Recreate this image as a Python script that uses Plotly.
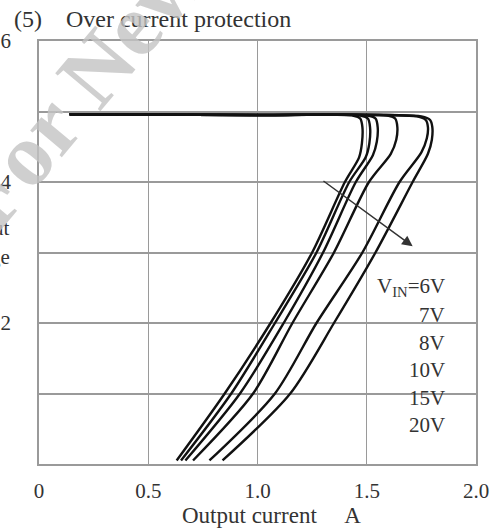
import plotly.graph_objects as go

# ---- data (output current A, output voltage V) ----
vin_labels = ["V<sub>IN</sub>=6V", "7V", "8V", "10V", "15V", "20V"]

I_6V = [0.14, 1.00, 1.44, 1.47, 1.48, 1.478, 1.465, 1.40, 1.25, 1.06, 0.85, 0.63]
V_6V = [4.96, 4.95, 4.94, 4.90, 4.78, 4.55, 4.35, 4.00, 3.00, 2.00, 1.00, 0.05]

I_7V = [0.14, 1.00, 1.475, 1.505, 1.515, 1.512, 1.495, 1.42, 1.27, 1.08, 0.88, 0.65]
V_7V = [4.96, 4.95, 4.94, 4.90, 4.78, 4.55, 4.35, 4.00, 3.00, 2.00, 1.00, 0.05]

I_8V = [0.14, 1.00, 1.51, 1.54, 1.55, 1.546, 1.528, 1.45, 1.30, 1.12, 0.92, 0.67]
V_8V = [4.96, 4.95, 4.94, 4.90, 4.78, 4.57, 4.38, 4.00, 3.00, 2.00, 1.00, 0.05]

I_10V = [0.14, 1.00, 1.60, 1.63, 1.64, 1.635, 1.61, 1.51, 1.35, 1.16, 0.98, 0.705]
V_10V = [4.96, 4.95, 4.94, 4.90, 4.78, 4.60, 4.40, 4.00, 3.00, 2.00, 1.00, 0.05]

I_15V = [0.14, 1.00, 1.73, 1.77, 1.78, 1.775, 1.75, 1.65, 1.48, 1.27, 1.08, 0.78]
V_15V = [4.96, 4.95, 4.93, 4.88, 4.78, 4.62, 4.42, 4.00, 3.00, 2.00, 1.00, 0.05]

I_20V = [0.14, 1.00, 1.75, 1.79, 1.80, 1.798, 1.78, 1.71, 1.54, 1.35, 1.15, 0.84]
V_20V = [4.96, 4.95, 4.93, 4.88, 4.78, 4.60, 4.40, 4.00, 3.00, 2.00, 1.00, 0.05]

x_tickvals = [0, 0.5, 1.0, 1.5, 2.0]
x_ticktext = ["0", "0.5", "1.0", "1.5", "2.0"]
y_tickvals = [0, 1, 2, 3, 4, 5, 6]
y_ticktext = ["", "", "2", "", "4", "", "6"]

curves = [(I_6V, V_6V), (I_7V, V_7V), (I_8V, V_8V),
          (I_10V, V_10V), (I_15V, V_15V), (I_20V, V_20V)]

SERIF = "Liberation Serif, Times New Roman, serif"
TXT = "#333333"
GRID = "#9a9a9a"

# plot area in pixels
L, R, T, B = 39, 476, 41, 464
W, H = 494, 528


def px(xp):
    return (xp - L) / (R - L)


def py(yp):
    return (B - yp) / (B - T)


fig = go.Figure()
for (ii, vv), name in zip(curves, vin_labels):
    fig.add_trace(go.Scatter(
        x=ii, y=vv, mode="lines", name=name,
        line=dict(color="#111111", width=2.4, shape="spline", smoothing=0.8),
        showlegend=False,
    ))

# VIN labels (right aligned column)
label_y = [2.51, 2.11, 1.72, 1.33, 0.94, 0.55]
for txt, yy in zip(vin_labels, label_y):
    fig.add_annotation(x=1.867, y=yy, xref="x", yref="y", text=txt,
                       showarrow=False, xanchor="right", yanchor="middle",
                       font=dict(family=SERIF, size=21, color=TXT))

# arrow showing increasing VIN
fig.add_annotation(x=1.71, y=3.09, ax=1.295, ay=4.03, xref="x", yref="y",
                   axref="x", ayref="y", text="", showarrow=True,
                   arrowhead=2, arrowsize=1.4, arrowwidth=1.5,
                   arrowcolor="#333333")

# title
fig.add_annotation(x=px(12), y=py(19), xref="paper", yref="paper",
                   text="(5)\u2003Over current protection", showarrow=False,
                   xanchor="left", yanchor="middle",
                   font=dict(family=SERIF, size=24, color=TXT))

# x axis title
fig.add_annotation(x=px(271), y=py(515), xref="paper", yref="paper",
                   text="Output current\u2003 A", showarrow=False,
                   xanchor="center", yanchor="middle",
                   font=dict(family=SERIF, size=23, color=TXT))

# y axis title (cut off at the left edge)
fig.add_annotation(x=px(12), y=py(228), xref="paper", yref="paper",
                   text="Output", showarrow=False, xanchor="right",
                   yanchor="middle", font=dict(family=SERIF, size=21, color=TXT))
fig.add_annotation(x=px(12), y=py(257), xref="paper", yref="paper",
                   text="voltage", showarrow=False, xanchor="right",
                   yanchor="middle", font=dict(family=SERIF, size=21, color=TXT))

# watermark
fig.add_annotation(x=px(79), y=py(90), xref="paper", yref="paper",
                   text="<b>For New</b>", showarrow=False, textangle=-50,
                   xanchor="center", yanchor="middle", opacity=0.8,
                   font=dict(family=SERIF, size=90, color="#c4c4c4"))

fig.update_xaxes(range=[0, 2.0], tickvals=x_tickvals, ticktext=x_ticktext,
                 showgrid=True, gridcolor=GRID, gridwidth=1.3,
                 showline=True, linecolor=GRID, linewidth=1.5, mirror=True,
                 zeroline=False, ticks="outside", ticklen=7, tickcolor="white",
                 automargin=False,
                 tickfont=dict(family=SERIF, size=21, color=TXT))
fig.update_yaxes(range=[0, 6], tickvals=y_tickvals, ticktext=y_ticktext,
                 showgrid=True, gridcolor=GRID, gridwidth=1.8,
                 showline=True, linecolor=GRID, linewidth=1.5, mirror=True,
                 zeroline=False, ticks="outside", ticklen=22, tickcolor="white",
                 automargin=False,
                 tickfont=dict(family=SERIF, size=21, color=TXT))

fig.update_layout(width=W, height=H,
                  margin=dict(l=L, r=W - R, t=T, b=H - B, autoexpand=False),
                  paper_bgcolor="white", plot_bgcolor="white",
                  showlegend=False)

fig.write_html("out.html")
